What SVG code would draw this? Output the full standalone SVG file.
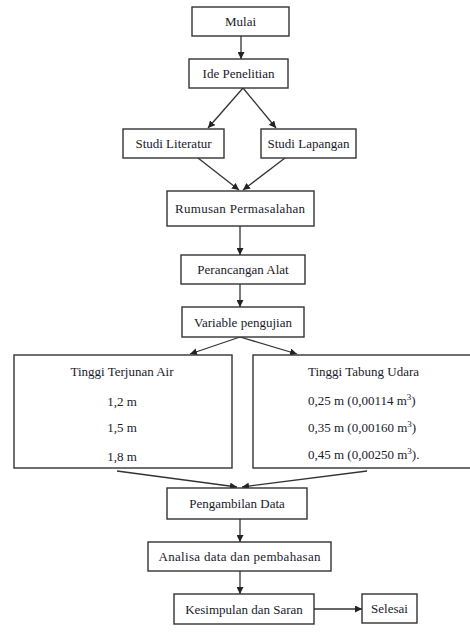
<svg xmlns="http://www.w3.org/2000/svg" width="470" height="635" viewBox="0 0 470 635">
<defs>
<marker id="ah" viewBox="0 0 10 10" refX="10" refY="5" markerWidth="7" markerHeight="7" markerUnits="userSpaceOnUse" orient="auto">
<path d="M0,0 L10,5 L0,10 z" fill="#222"/>
</marker>
<style>
.box{fill:#fff;stroke:#333;stroke-width:1.4}
.t{font-family:"Liberation Serif","Times New Roman",serif;font-size:13px;fill:#1a1a2a;text-anchor:middle}
.l{text-anchor:start}
.c{fill:none;stroke:#333;stroke-width:1.3;marker-end:url(#ah)}
</style>
</defs>
<rect width="470" height="635" fill="#fff"/>
<g id="connectors">
<line class="c" x1="241" y1="36" x2="241" y2="59"/>
<line class="c" x1="243" y1="88" x2="208" y2="128"/>
<line class="c" x1="243" y1="88" x2="276" y2="128"/>
<line class="c" x1="198" y1="158" x2="239" y2="190"/>
<line class="c" x1="285" y1="158" x2="243" y2="190"/>
<line class="c" x1="240" y1="226" x2="240" y2="255"/>
<line class="c" x1="240" y1="284" x2="240" y2="307"/>
<line class="c" x1="240" y1="337" x2="190" y2="354"/>
<line class="c" x1="240" y1="337" x2="297" y2="354"/>
<line class="c" x1="117" y1="471" x2="237" y2="487"/>
<line class="c" x1="367" y1="471" x2="242" y2="487"/>
<line class="c" x1="240" y1="519" x2="240" y2="542"/>
<line class="c" x1="240" y1="571" x2="240" y2="594"/>
<line class="c" x1="314" y1="609" x2="362" y2="609"/>
</g>
<g id="mulai"><rect class="box" x="192" y="7" width="97" height="29"/><text class="t" x="240.5" y="26">Mulai</text></g>
<g id="ide"><rect class="box" x="189" y="59" width="99" height="29"/><text class="t" x="238.5" y="78">Ide Penelitian</text></g>
<g id="literatur"><rect class="box" x="123" y="129" width="101" height="29"/><text class="t" x="173.5" y="148">Studi Literatur</text></g>
<g id="lapangan"><rect class="box" x="261" y="129" width="95" height="29"/><text class="t" x="308.5" y="148">Studi Lapangan</text></g>
<g id="rumusan"><rect class="box" x="167" y="191" width="147" height="35"/><text class="t" x="240" y="213" textLength="130" lengthAdjust="spacing">Rumusan Permasalahan</text></g>
<g id="perancangan"><rect class="box" x="181" y="255" width="124" height="29"/><text class="t" x="243" y="274">Perancangan Alat</text></g>
<g id="variable"><rect class="box" x="182" y="307" width="122" height="30"/><text class="t" x="243" y="326.5">Variable pengujian</text></g>
<g id="terjunan"><rect class="box" x="14" y="355" width="218" height="113"/>
<text class="t" x="122" y="376">Tinggi Terjunan Air</text>
<text class="t" x="122" y="406">1,2 m</text>
<text class="t" x="122" y="432">1,5 m</text>
<text class="t" x="122" y="461">1,8 m</text></g>
<g id="tabung"><rect class="box" x="253" y="355" width="222" height="113"/>
<text class="t l" x="308" y="376">Tinggi Tabung Udara</text>
<text class="t l" x="308" y="405">0,25 m (0,00114 m<tspan font-size="9" dy="-5">3</tspan><tspan dy="5">)</tspan></text>
<text class="t l" x="308" y="432">0,35 m (0,00160 m<tspan font-size="9" dy="-5">3</tspan><tspan dy="5">)</tspan></text>
<text class="t l" x="308" y="459">0,45 m (0,00250 m<tspan font-size="9" dy="-5">3</tspan><tspan dy="5">).</tspan></text></g>
<g id="pengambilan"><rect class="box" x="167" y="488" width="140" height="31"/><text class="t" x="237" y="508">Pengambilan Data</text></g>
<g id="analisa"><rect class="box" x="148" y="542" width="183" height="29"/><text class="t" x="239.5" y="561" textLength="162" lengthAdjust="spacing">Analisa data dan pembahasan</text></g>
<g id="kesimpulan"><rect class="box" x="174" y="594" width="140" height="30"/><text class="t" x="244" y="613.5">Kesimpulan dan Saran</text></g>
<g id="selesai"><rect class="box" x="362" y="594" width="55" height="29"/><text class="t" x="389.5" y="613">Selesai</text></g>
</svg>
